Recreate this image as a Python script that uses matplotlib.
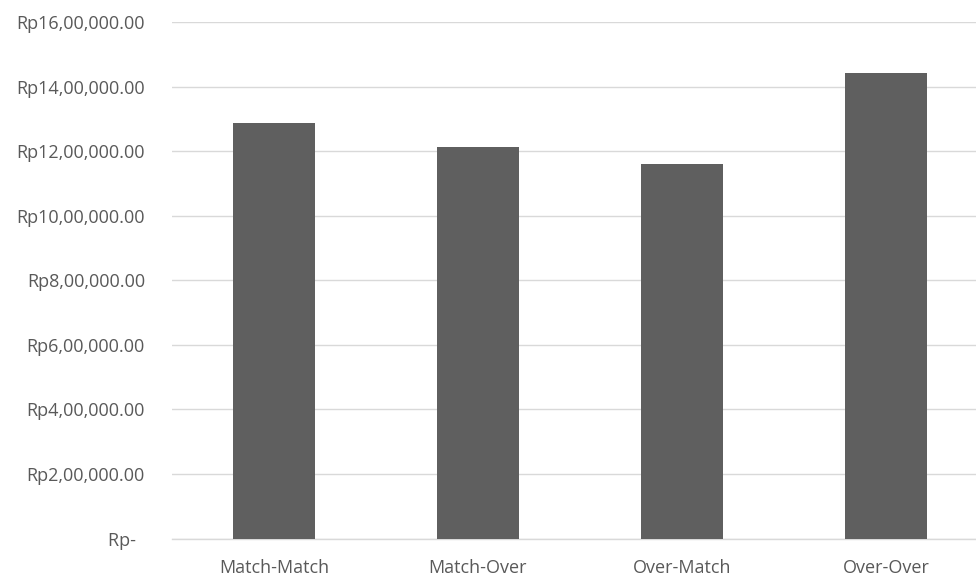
import matplotlib
matplotlib.use("Agg")
import matplotlib.pyplot as plt

categories = ["Match-Match", "Match-Over", "Over-Match", "Over-Over"]
values = [1287000, 1214000, 1160000, 1442000]
ytick_values = [0, 200000, 400000, 600000, 800000, 1000000, 1200000, 1400000, 1600000]
ytick_labels = ["Rp-  ", "Rp2,00,000.00", "Rp4,00,000.00", "Rp6,00,000.00", "Rp8,00,000.00",
                "Rp10,00,000.00", "Rp12,00,000.00", "Rp14,00,000.00", "Rp16,00,000.00"]

W, H = 976, 575
fig = plt.figure(figsize=(W / 100, H / 100), dpi=100)
left, right = 172 / W, 1.0
bottom, top = 1 - 538.5 / H, 1 - 22 / H
ax = fig.add_axes([left, bottom, right - left, top - bottom])

x = list(range(len(categories)))
ax.bar(x, values, width=0.40, color="#5f5f5f", zorder=3)

ax.set_ylim(0, 1600000)
ax.set_xlim(-0.5, -0.5 + (976 - 172) / 204)
ax.set_yticks(ytick_values)
ax.set_yticklabels(ytick_labels)
ax.set_xticks(x)
ax.set_xticklabels(categories)

ax.grid(axis="y", color="#d9d9d9", linewidth=1.0, zorder=0)
for s in ["top", "right", "left"]:
    ax.spines[s].set_visible(False)
ax.spines["bottom"].set_color("#d9d9d9")
ax.spines["bottom"].set_linewidth(1.0)
ax.tick_params(axis="both", length=0, colors="#595959", labelsize=13.0)
ax.tick_params(axis="y", pad=19.5)
ax.tick_params(axis="x", pad=14.5)
for lab in ax.get_xticklabels() + ax.get_yticklabels():
    lab.set_fontfamily(["Open Sans", "DejaVu Sans"])

fig.savefig("out.png", dpi=100, facecolor="white")
